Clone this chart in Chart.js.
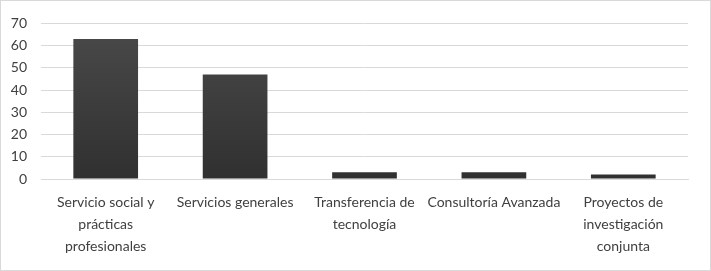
<!DOCTYPE html>
<html>
<head>
<meta charset="utf-8">
<script src="https://cdn.jsdelivr.net/npm/chart.js@4"></script>
<style>
    html, body {margin: 0; padding: 0; background: #fff;}
    #wrap {position: relative; width: 711px; height: 271px; box-sizing: border-box; border: 1px solid #d9d9d9;}
    canvas {display: block;}
</style>
</head>
<body>
<div id="wrap"><canvas id="chart" width="709" height="269"></canvas></div>
<script>
const categories = [
    ['Servicio social y', 'prácticas', 'profesionales'],
    'Servicios generales',
    ['Transferencia de', 'tecnología'],
    'Consultoría Avanzada',
    ['Proyectos de', 'investigación', 'conjunta']
]
const values = [63, 47, 3, 3, 2]
const yTicks = [0, 10, 20, 30, 40, 50, 60, 70]

const textColor = '#404040'
const gridColor = '#d9d9d9'
const fontFamily = "Lato, sans-serif"

function barGradient(ctx) {
    const area = ctx.chart.chartArea
    if (!area) return '#3a3a3a'
    const g = ctx.chart.ctx.createLinearGradient(0, area.top, 0, area.bottom)
    g.addColorStop(0, '#4a4a4a')
    g.addColorStop(1, '#303030')
    return g
}

new Chart(document.getElementById('chart'), {
    type: 'bar',
    data: {
        labels: categories,
        datasets: [{
            data: values,
            backgroundColor: barGradient,
            borderWidth: 0,
            categoryPercentage: 1,
            barPercentage: 0.5
        }]
    },
    options: {
        responsive: false,
        animation: false,
        layout: {padding: {left: 0, right: 22, top: 17, bottom: 0}},
        plugins: {legend: {display: false}, tooltip: {enabled: false}},
        scales: {
            x: {
                grid: {display: false, drawTicks: false},
                border: {color: gridColor, width: 1},
                ticks: {
                    color: textColor,
                    font: {family: fontFamily, size: 14, lineHeight: 1.55},
                    padding: 13,
                    maxRotation: 0,
                    autoSkip: false
                },
                afterFit: (scale) => { scale.height = 91 }
            },
            y: {
                min: 0,
                max: 70,
                afterBuildTicks: (scale) => { scale.ticks = yTicks.map(v => ({value: v})) },
                grid: {color: gridColor, lineWidth: 1, drawTicks: false},
                border: {display: false},
                ticks: {
                    color: textColor,
                    font: {family: fontFamily, size: 14},
                    padding: 14
                },
                afterFit: (scale) => { scale.width = 40 }
            }
        }
    }
})
</script>
</body>
</html>
